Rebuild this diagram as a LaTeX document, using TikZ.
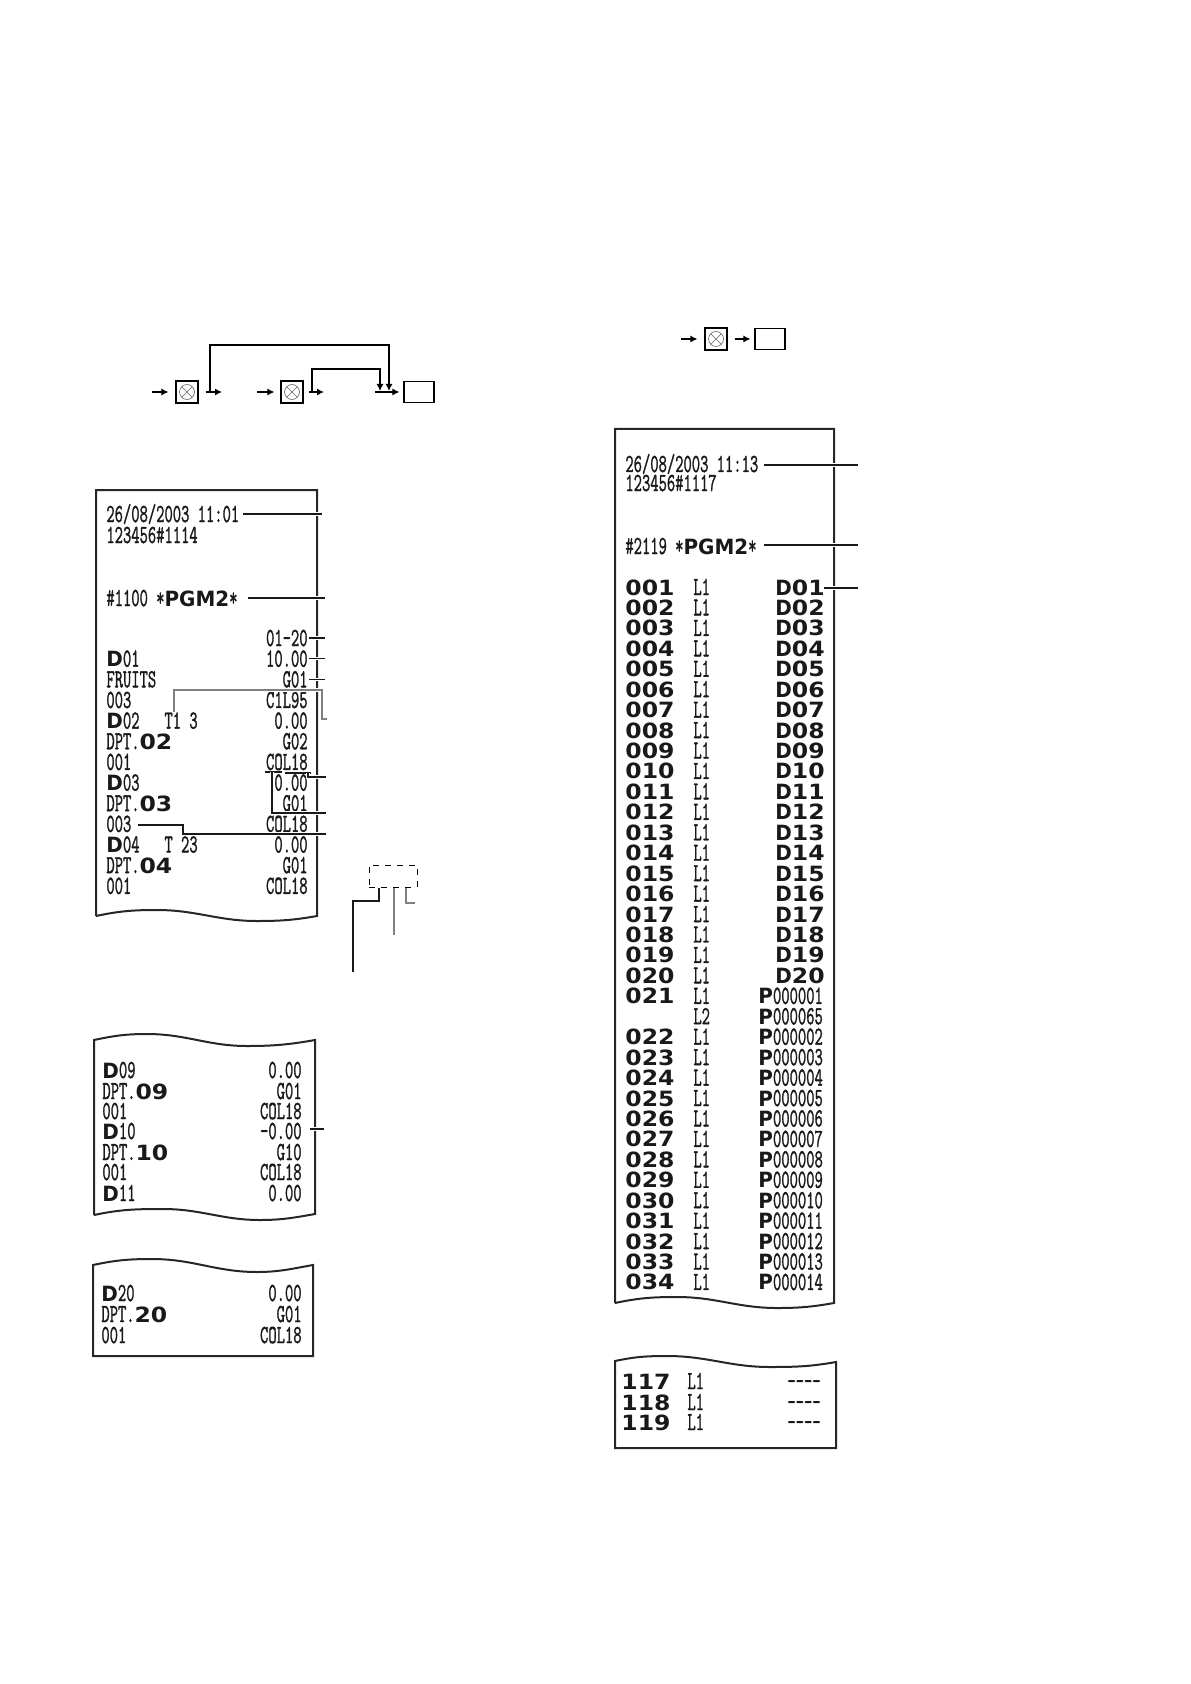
\documentclass[tikz,border=0pt]{standalone}
\usepackage{graphicx}
\usepackage{fontspec}
\newfontfamily\widefont{DejaVu Sans}
\newfontfamily\narfont[FakeBold=1.6]{Latin Modern Mono}
\usepackage{tikz}
\usetikzlibrary{arrows.meta}

\newcommand{\nar}[1]{{\fontsize{13}{13}\narfont\scalebox{0.62}[1]{#1}}}
\newcommand{\wnum}[1]{{\fontsize{10.5}{10.5}\widefont\bfseries\scalebox{1.12}[1]{#1}}}
\newcommand{\wlet}[1]{{\fontsize{10.5}{10.5}\widefont\bfseries\scalebox{0.95}[1]{#1}}}

\tikzset{
	rowtext/.style={inner sep=0pt,text height=8pt,text depth=0pt,text=black!90},
	lefttext/.style={rowtext,anchor=west},
	righttext/.style={rowtext,anchor=east},
	paper/.style={draw=black!85,line width=1pt},
	lead/.style={black!90,line width=0.55pt,preaction={draw=white,line width=1.8pt}},
	leadgray/.style={lead,black!50},
	plainlead/.style={black!90,line width=0.55pt},
	keybox/.style={draw,line width=0.6pt,inner sep=0pt,minimum size=11pt},
	enterbox/.style={draw,line width=0.6pt,inner sep=0pt,minimum width=15pt,minimum height=10.5pt},
	keyline/.style={black,line width=0.55pt,-{Latex[length=3.5pt,width=3.5pt]}},
	xsign/.style={black!60,line width=0.3pt}
}

\begin{document}
\begin{tikzpicture}[x=0.5pt,y=-0.5pt]
	\useasboundingbox (0,0) rectangle (1190,1684);

	% key sequences
	\node [keybox] (key1) at (187,392) {};
	\node [keybox] (key2) at (292,392) {};
	\node [enterbox] (enter1) at (419,392) {};
	\node [keybox] (key3) at (716,339) {};
	\node [enterbox] (enter2) at (770,339) {};
	\foreach \kk in {key1,key2,key3} {
		\draw [xsign] (\kk) circle (3.75pt)
			([shift={(45:3.75pt)}]\kk.center) -- ([shift={(225:3.75pt)}]\kk.center)
			([shift={(135:3.75pt)}]\kk.center) -- ([shift={(-45:3.75pt)}]\kk.center);
	}
	\coordinate (in1) at (152,392);
	\coordinate (out1) at (222,392);
	\coordinate (in2) at (257,392);
	\coordinate (out2) at (324,392);
	\coordinate (in3) at (375,392);
	\coordinate (in4) at (681,339);
	\coordinate (up1) at (210,392);
	\coordinate (top1) at (389,345);
	\coordinate (down1) at (389,391);
	\coordinate (up2) at (312,392);
	\coordinate (top2) at (380,369);
	\coordinate (down2) at (380,391);
	\draw [keyline,shorten >=3.5pt] (in1) -- (key1.west);
	\draw [keyline,shorten <=3.5pt] (key1.east) -- (out1);
	\draw [keyline,shorten >=3pt] (in2) -- (key2.west);
	\draw [keyline,shorten <=2.5pt] (key2.east) -- (out2);
	\draw [keyline,shorten >=2pt] (in3) -- (enter1.west);
	\draw [keyline] (up1) |- (top1) -- (down1);
	\draw [keyline] (up2) |- (top2) -- (down2);
	\draw [keyline,shorten >=3.5pt] (in4) -- (key3.west);
	\draw [keyline,shorten <=3.5pt,shorten >=2pt] (key3.east) -- (enter2.west);

	% paper slips
	\draw [paper] (96,916) -- (96,490) -- (317,490) -- (317,916)
		to [out=190,in=0] (257,921) to [out=180,in=0] (157,910) to [out=180,in=12] (96,916);
	\draw [paper] (94,1215) -- (94,1040) to [out=12,in=180] (147,1034) to [out=0,in=180] (247,1046)
		to [out=0,in=190] (315,1040) -- (315,1214)
		to [out=190,in=0] (260,1220) to [out=180,in=0] (163,1209) to [out=180,in=12] (94,1215);
	\draw [paper] (93,1356) -- (93,1265) to [out=12,in=180] (152,1259) to [out=0,in=180] (257,1272)
		to [out=0,in=190] (313,1265) -- (313,1356) -- cycle;
	\draw [paper] (615,1303) -- (615,429) -- (834,429) -- (834,1303)
		to [out=190,in=0] (777,1308) to [out=180,in=0] (677,1297) to [out=180,in=12] (615,1303);
	\draw [paper] (615,1448) -- (615,1361) to [out=12,in=180] (667,1356) to [out=0,in=180] (770,1367)
		to [out=0,in=190] (836,1362) -- (836,1448) -- cycle;

	% first slip
	\node [lefttext] (date1) at (106,514) {\nar{26/08/2003 11:01}};
	\node [lefttext] (mach1) at (106,535) {\nar{123456\#1114}};
	\node [lefttext] (pgm1) at (106,598) {\nar{\#1100 *}\wlet{PGM2}\nar{*}};
	\node [righttext] (range1) at (308,638) {\nar{01-20}};
	\foreach \k/\lft/\rgt in {
		1/{\wlet{D}\nar{01}}/10.00, 2/{\nar{FRUITS}}/G01, 3/{\nar{003}}/C1L95,
		4/{\wlet{D}\nar{02~~~T1~3}}/0.00, 5/{\nar{DPT.}\wnum{02}}/G02, 6/{\nar{001}}/COL18,
		7/{\wlet{D}\nar{03}}/0.00, 8/{\nar{DPT.}\wnum{03}}/G01, 9/{\nar{003}}/COL18,
		10/{\wlet{D}\nar{04~~~T~23}}/0.00, 11/{\nar{DPT.}\wnum{04}}/G01, 12/{\nar{001}}/COL18} {
		\node [lefttext] (la\k) at (106,{638+20.65*\k}) {\lft};
		\node [righttext] (ra\k) at (308,{638+20.65*\k}) {\nar{\rgt}};
	}

	% second slip
	\foreach \k/\ry/\lft/\rgt in {
		1/1070/{\wlet{D}\nar{09}}/0.00, 2/1091/{\nar{DPT.}\wnum{09}}/G01, 3/1111/{\nar{001}}/COL18,
		4/1131/{\wlet{D}\nar{10}}/-0.00, 5/1152/{\nar{DPT.}\wnum{10}}/G10, 6/1172/{\nar{001}}/COL18,
		7/1193/{\wlet{D}\nar{11}}/0.00} {
		\node [lefttext] (lb\k) at (102,\ry) {\lft};
		\node [righttext] (rb\k) at (302,\ry) {\nar{\rgt}};
	}

	% third slip
	\foreach \k/\ry/\lft/\rgt in {
		1/1293/{\wlet{D}\nar{20}}/0.00, 2/1314/{\nar{DPT.}\wnum{20}}/G01, 3/1335/{\nar{001}}/COL18} {
		\node [lefttext] (lc\k) at (101,\ry) {\lft};
		\node [righttext] (rc\k) at (302,\ry) {\nar{\rgt}};
	}

	% long slip
	\node [lefttext] (date2) at (625,464) {\nar{26/08/2003 11:13}};
	\node [lefttext] (mach2) at (625,483) {\nar{123456\#1117}};
	\node [lefttext] (pgm2) at (625,546) {\nar{\#2119 *}\wlet{PGM2}\nar{*}};
	\foreach \k/\no/\dno in {
		0/001/01,1/002/02,2/003/03,3/004/04,4/005/05,5/006/06,6/007/07,7/008/08,8/009/09,9/010/10,
		10/011/11,11/012/12,12/013/13,13/014/14,14/015/15,15/016/16,16/017/17,17/018/18,18/019/19,19/020/20} {
		\node [lefttext] (no\no) at (625,{587+20.44*\k}) {\wnum{\no}};
		\node [lefttext] (li\no) at (693,{587+20.44*\k}) {\nar{L1}};
		\node [lefttext] (dp\no) at (775,{587+20.44*\k}) {\wlet{D}\wnum{\dno}};
	}
	\foreach \k/\no/\pno in {
		20/021/000001,22/022/000002,23/023/000003,24/024/000004,25/025/000005,26/026/000006,27/027/000007,
		28/028/000008,29/029/000009,30/030/000010,31/031/000011,32/032/000012,33/033/000013,34/034/000014} {
		\node [lefttext] (no\no) at (625,{587+20.44*\k}) {\wnum{\no}};
		\node [lefttext] (li\no) at (693,{587+20.44*\k}) {\nar{L1}};
		\node [lefttext] (pl\no) at (758,{587+20.44*\k}) {\wlet{P}\nar{\pno}};
	}
	\node [lefttext] (li021b) at (693,{587+20.44*21}) {\nar{L2}};
	\node [lefttext] (pl021b) at (758,{587+20.44*21}) {\wlet{P}\nar{000065}};

	% last slip
	\foreach \k/\ry/\no in {1/1381/117,2/1402/118,3/1422/119} {
		\node [lefttext] (no\no) at (621,\ry) {\wnum{\no}};
		\node [lefttext] (li\no) at (687,\ry) {\nar{L1}};
		\node [righttext] (pl\no) at (821,\ry) {\nar{----}};
	}

	% leaders of the first slip
	\coordinate (ld1) at (322,514);
	\coordinate (ld2) at (325,598);
	\coordinate (ld3) at (325,638);
	\coordinate (ld4) at (325,{638+20.65});
	\coordinate (ld5) at (325,{638+20.65*2});
	\draw [lead,shorten <=1.5pt] (date1.east) -- (ld1);
	\draw [lead,shorten <=5pt] (pgm1.east) -- (ld2);
	\draw [lead,shorten <=0.5pt] (range1.east) -- (ld3);
	\draw [lead,shorten <=0.5pt] (ra1.east) -- (ld4);
	\draw [lead,shorten <=0.5pt] (ra2.east) -- (ld5);
	\coordinate (ta) at (174,712);
	\coordinate (tb) at (322,690);
	\coordinate (tc) at (327,719);
	\draw [leadgray] (ta) |- (tb) |- (tc);
	\coordinate (ua) at (265,772);
	\coordinate (ub) at (282,772);
	\coordinate (uc) at (311,773);
	\coordinate (ud) at (285,773);
	\coordinate (ue) at (308,773);
	\coordinate (uf) at (326,777);
	\coordinate (ug) at (272,772);
	\coordinate (uh) at (326,813);
	\draw [plainlead] (ua) -- (ub);
	\draw [plainlead] (ud) -- (uc);
	\draw [lead] (ue) |- (uf);
	\draw [lead] (ug) |- (uh);
	\coordinate (va) at (326,834);
	\coordinate (vb) at (183,825);
	\coordinate (vc) at (138,825);
	\draw [lead] (vc) -- (vb) |- (va);
	\coordinate (ld6) at (324,1129);
	\coordinate (ld6a) at (310,1129);
	\draw [lead] (ld6a) -- (ld6);

	% tax status box
	\node [draw,dashed,line width=0.5pt,inner sep=0pt,minimum width=24pt,minimum height=11pt] (stat) at (393,876) {};
	\coordinate (sa) at (379,901);
	\coordinate (sb) at (353,972);
	\coordinate (sc) at (394,935);
	\coordinate (sd) at (406,903);
	\coordinate (se) at (415,903);
	\draw [plainlead] ([xshift=-7pt]stat.south) -- (sa) -| (sb);
	\draw [plainlead,black!50] ([xshift=0.5pt]stat.south) -- (sc);
	\draw [plainlead,black!50] ([xshift=6.5pt]stat.south) -- (sd) -- (se);

	% leaders of the long slip
	\coordinate (ld7) at (858,465);
	\coordinate (ld8) at (858,545);
	\coordinate (ld9) at (858,588);
	\coordinate (ld7a) at (764,465);
	\coordinate (ld8a) at (764,545);
	\coordinate (ld9a) at (824,588);
	\draw [lead] (ld7a) -- (ld7);
	\draw [lead] (ld8a) -- (ld8);
	\draw [lead] (ld9a) -- (ld9);
\end{tikzpicture}
\end{document}
